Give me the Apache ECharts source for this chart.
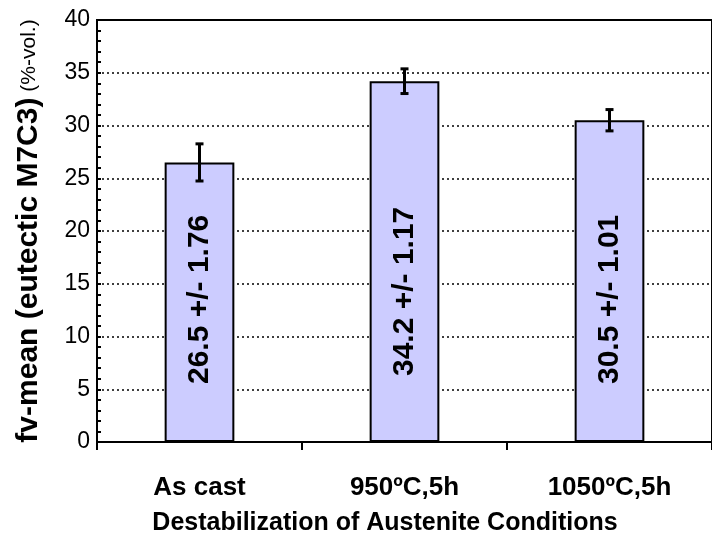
<!DOCTYPE html>
<html>
<head>
<meta charset="utf-8">
<script src="https://cdn.jsdelivr.net/npm/echarts@6/dist/echarts.min.js"></script>
<style>
  html, body { margin: 0; padding: 0; background: #fff; }
  #chart { width: 712px; height: 537px; }
</style>
</head>
<body>
<div id="chart"></div>
<script>
// Heat-treatment conditions and measured eutectic carbide volume fraction
const conditions = ['As cast', '950ºC,5h', '1050ºC,5h'];
const meanValues = [26.5, 34.2, 30.5];
const stdDevs = [1.76, 1.17, 1.01];
const yTicks = [0, 5, 10, 15, 20, 25, 30, 35, 40];

const FONT = '"Liberation Sans", Arial, sans-serif';

const chart = echarts.init(document.getElementById('chart'), null, { renderer: 'canvas' });

const errorData = conditions.map((c, i) => [i, meanValues[i] - stdDevs[i], meanValues[i] + stdDevs[i]]);

// The middle bar's label sits a little higher than the other two
const barData = meanValues.map((v, i) => (i === 1 ? { value: v, label: { distance: 66 } } : { value: v }));

const option = {
  animation: false,
  backgroundColor: '#fff',
  grid: {
    left: 97, top: 20, right: -11, bottom: 95,
    show: true, borderColor: '#000', borderWidth: 2, backgroundColor: 'transparent'
  },
  xAxis: {
    type: 'category',
    data: conditions,
    axisLine: { lineStyle: { color: '#000', width: 2 } },
    axisTick: { show: true, alignWithLabel: false, length: 8, lineStyle: { color: '#000', width: 2 } },
    axisLabel: { color: '#000', fontFamily: FONT, fontWeight: 'bold', fontSize: 26, margin: 33 },
    splitLine: { show: false }
  },
  yAxis: {
    type: 'value',
    min: yTicks[0],
    max: yTicks[yTicks.length - 1],
    interval: yTicks[1] - yTicks[0],
    axisLine: { show: true, lineStyle: { color: '#000', width: 2 } },
    axisTick: { show: true, inside: true, length: 4, lineStyle: { color: '#000', width: 2 } },
    minorTick: { show: true, splitNumber: 5, length: 4, lineStyle: { color: '#000', width: 2 } },
    axisLabel: { color: '#000', fontFamily: FONT, fontSize: 23, margin: 7 },
    splitLine: { show: true, lineStyle: { color: '#000', width: 1.5, type: [2, 3] } },
    name: '{b|fv-mean (eutectic M7C3)}{n| (%-vol.)}',
    nameLocation: 'middle',
    nameGap: 53,
    nameTextStyle: {
      rich: {
        b: { fontFamily: FONT, fontWeight: 'bold', fontSize: 30, color: '#000' },
        n: { fontFamily: FONT, fontSize: 21, color: '#000' }
      }
    }
  },
  graphic: [{
    type: 'text',
    x: 385, y: 511,
    style: {
      text: 'Destabilization of Austenite Conditions',
      align: 'center', verticalAlign: 'top',
      fontFamily: FONT, fontWeight: 'bold', fontSize: 25, fill: '#000'
    }
  }],
  series: [
    {
      type: 'bar',
      data: barData,
      barWidth: '34%',
      itemStyle: { color: '#CCCCFF', borderColor: '#000', borderWidth: 2 },
      label: {
        show: true,
        position: 'insideBottom',
        distance: 58,
        rotate: 90,
        align: 'left',
        verticalAlign: 'middle',
        fontFamily: FONT, fontWeight: 'bold', fontSize: 30, color: '#000',
        formatter: p => p.value + ' +/- ' + stdDevs[p.dataIndex]
      },
      z: 2
    },
    {
      type: 'custom',
      data: errorData,
      z: 5,
      renderItem: (params, api) => {
        const lo = api.coord([api.value(0), api.value(1)]);
        const hi = api.coord([api.value(0), api.value(2)]);
        const half = 4;
        const style = { stroke: '#000', lineWidth: 3, fill: 'none' };
        return {
          type: 'group',
          children: [
            { type: 'line', shape: { x1: hi[0], y1: hi[1], x2: lo[0], y2: lo[1] }, style },
            { type: 'line', shape: { x1: hi[0] - half, y1: hi[1], x2: hi[0] + half, y2: hi[1] }, style },
            { type: 'line', shape: { x1: lo[0] - half, y1: lo[1], x2: lo[0] + half, y2: lo[1] }, style }
          ]
        };
      }
    }
  ]
};

chart.setOption(option);
</script>
</body>
</html>
